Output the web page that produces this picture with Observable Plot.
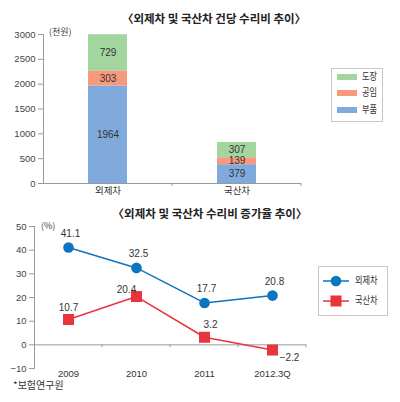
<!DOCTYPE html>
<html><head><meta charset="utf-8">
<script src="https://cdn.jsdelivr.net/npm/d3@7"></script>
<script src="https://cdn.jsdelivr.net/npm/@observablehq/plot@0.6"></script>
<style>
body{margin:0;background:#fff;}
#wrap{position:relative;width:400px;height:402px;font-family:"Liberation Sans","Noto Sans CJK KR",sans-serif;color:#333;overflow:hidden;background:#fff}
.abs{position:absolute;white-space:nowrap;line-height:1}
.title{font-family:"Noto Sans CJK KR",sans-serif;font-weight:bold;font-size:11.5px;color:#222;text-align:center}
.unit{font-family:"Noto Sans CJK KR",sans-serif;font-size:9px;color:#444}
.legbox{border:1px solid #c8c8c8;background:#fff}
.legtxt{font-family:"Noto Sans CJK KR",sans-serif;font-size:10px;color:#333;transform:scaleX(0.82);transform-origin:left center}
svg{position:absolute;left:0;overflow:visible}
</style></head><body><div id="wrap"></div>
<script>
// ---- data: top chart (천원) ----
const cars = ["외제차", "국산차"];
const parts = ["부품", "공임", "도장"];
const partCost = [1964, 379];
const laborCost = [303, 139];
const paintCost = [729, 307];
const costTicks = [0, 500, 1000, 1500, 2000, 2500, 3000];

// ---- data: bottom chart (%) ----
const periods = ["2009", "2010", "2011", "2012.3Q"];
const importGrowth = [41.1, 32.5, 17.7, 20.8];
const domesticGrowth = [10.7, 20.4, 3.2, -2.2];
const growthTicks = [-10, 0, 10, 20, 30, 40, 50];
const seriesNames = ["외제차", "국산차"];

// label offsets (style only)
const domesticLabelOffsets = [[0, -12], [-10, -7], [6, -12], [17, 8]];

const partColors = ["#80a9dc", "#f7997d", "#a3d59e"];
const blue = "#0d74bf", red = "#e9333d";
const axisGray = "#9a9a9a", textGray = "#444";
const numFont = "Liberation Sans, Noto Sans CJK KR, sans-serif";
const krFont = "Noto Sans CJK KR, sans-serif";

const wrap = document.getElementById("wrap");

// ---------- top chart ----------
const barData = [];
cars.forEach((c, i) => {
  barData.push({car: c, part: parts[0], value: partCost[i]});
  barData.push({car: c, part: parts[1], value: laborCost[i]});
  barData.push({car: c, part: parts[2], value: paintCost[i]});
});

const topChart = Plot.plot({
  width: 400, height: 200,
  marginTop: 34, marginBottom: 17, marginLeft: 43, marginRight: 99,
  style: {background: "transparent", fontFamily: numFont},
  x: {type: "band", domain: cars, padding: 0, axis: null},
  y: {domain: [0, 3000], axis: null},
  color: {domain: parts, range: partColors},
  marks: [
    Plot.barY(barData, {x: "car", y: "value", fill: "part", insetLeft: 45, insetRight: 45}),
    Plot.text(barData, Plot.stackY({x: "car", y: "value", text: d => String(d.value), fill: "#333", fontSize: 10})),
    Plot.ruleY([0], {stroke: axisGray}),
    Plot.frame({anchor: "left", stroke: axisGray}),
    Plot.axisY({ticks: costTicks, tickSize: 5, tickPadding: 3, stroke: axisGray, fill: textGray, fontSize: 9.5, label: null, tickFormat: d => String(d)}),
    Plot.axisX({tickSize: 0, tickPadding: 4, fill: "#333", fontSize: 9.5, fontFamily: krFont, label: null})
  ]
});
topChart.style.top = "0px";
wrap.appendChild(topChart);

function boundaryTicks(svg, cats) {
  const sx = svg.scale("x"), sy = svg.scale("y");
  const y0 = sy.apply(0);
  const bw = sx.bandwidth;
  const g = d3.select(svg).append("g").attr("stroke", axisGray);
  cats.forEach(c => {
    const xb = sx.apply(c) + bw;
    g.append("line").attr("x1", xb).attr("x2", xb).attr("y1", y0).attr("y2", y0 + 3);
  });
}
boundaryTicks(topChart, cars);

// ---------- bottom chart ----------
const importRows = periods.map((p, i) => ({period: p, series: seriesNames[0], value: importGrowth[i]}));
const domesticRows = periods.map((p, i) => ({period: p, series: seriesNames[1], value: domesticGrowth[i]}));
const fmt = v => (v < 0 ? "−" : "") + Math.abs(v).toFixed(1);

const bottomChart = Plot.plot({
  width: 400, height: 185,
  marginTop: 26, marginBottom: 17, marginLeft: 34, marginRight: 94,
  style: {background: "transparent", fontFamily: numFont},
  x: {type: "band", domain: periods, padding: 0, axis: null},
  y: {domain: [-10, 50], axis: null},
  marks: [
    Plot.ruleY([0], {stroke: axisGray}),
    Plot.frame({anchor: "left", stroke: axisGray}),
    Plot.axisY({ticks: growthTicks, tickSize: 5, tickPadding: 3, stroke: axisGray, fill: textGray, fontSize: 9.5, label: null, tickFormat: d => (d < 0 ? "−" : "") + Math.abs(d)}),
    Plot.axisX({tickSize: 0, tickPadding: 2, fill: "#333", fontSize: 9.5, label: null}),
    Plot.line(importRows, {x: "period", y: "value", stroke: blue, strokeWidth: 1.5}),
    Plot.line(domesticRows, {x: "period", y: "value", stroke: red, strokeWidth: 1.5}),
    Plot.dot(importRows, {x: "period", y: "value", r: 5.3, fill: blue, symbol: "circle"}),
    Plot.dot(domesticRows, {x: "period", y: "value", r: 6.2, fill: red, symbol: "square"}),
    Plot.text(importRows, {x: "period", y: "value", text: d => fmt(d.value), dx: 2, dy: -14, fill: "#333", fontSize: 10}),
    ...domesticRows.map((d, i) => Plot.text([d], {x: "period", y: "value", text: r => fmt(r.value), dx: domesticLabelOffsets[i][0], dy: domesticLabelOffsets[i][1], fill: "#333", fontSize: 10}))
  ]
});
bottomChart.style.top = "200px";
wrap.appendChild(bottomChart);
boundaryTicks(bottomChart, periods);

// ---------- HTML text: titles, units, legends, source ----------
function addDiv(html, cls, css) {
  const d = document.createElement("div");
  d.className = "abs " + cls;
  d.innerHTML = html;
  Object.assign(d.style, css);
  wrap.appendChild(d);
  return d;
}
addDiv("〈외제차 및 국산차 건당 수리비 추이〉", "title", {left: "0px", width: "428px", top: "13px"});
addDiv("〈외제차 및 국산차 수리비 증가율 추이〉", "title", {left: "0px", width: "420px", top: "208px"});
addDiv("(천원)", "unit", {left: "49px", top: "27px"});
addDiv("(%)", "unit", {left: "41px", top: "221px"});
addDiv("*보험연구원", "unit", {left: "13px", top: "380px", fontSize: "10px", color: "#333"});

// top legend (reverse order: 도장, 공임, 부품)
addDiv("", "legbox", {left: "331px", top: "68px", width: "50px", height: "52px"});
const legOrder = [2, 1, 0];
const legY = [77, 93, 110];
legOrder.forEach((k, j) => {
  addDiv("", "", {left: "337px", top: (legY[j] - 3) + "px", width: "20px", height: "6px", background: partColors[k]});
  addDiv(parts[k], "legtxt", {left: "362px", top: (legY[j] - 6) + "px"});
});

// bottom legend
addDiv("", "legbox", {left: "318px", top: "266px", width: "68px", height: "48px"});
const legSvg = d3.create("svg").attr("width", 400).attr("height", 402).style("top", "0px").style("pointer-events", "none");
const rowsY = [281, 301];
legSvg.append("line").attr("x1", 323).attr("x2", 349).attr("y1", rowsY[0]).attr("y2", rowsY[0]).attr("stroke", blue).attr("stroke-width", 1.5);
legSvg.append("circle").attr("cx", 336).attr("cy", rowsY[0]).attr("r", 5.3).attr("fill", blue);
legSvg.append("line").attr("x1", 323).attr("x2", 349).attr("y1", rowsY[1]).attr("y2", rowsY[1]).attr("stroke", red).attr("stroke-width", 1.5);
legSvg.append("rect").attr("x", 330.5).attr("y", rowsY[1] - 5.5).attr("width", 11).attr("height", 11).attr("fill", red);
wrap.appendChild(legSvg.node());
addDiv(seriesNames[0], "legtxt", {left: "355px", top: (rowsY[0] - 6) + "px"});
addDiv(seriesNames[1], "legtxt", {left: "355px", top: (rowsY[1] - 6) + "px"});
</script></body></html>
